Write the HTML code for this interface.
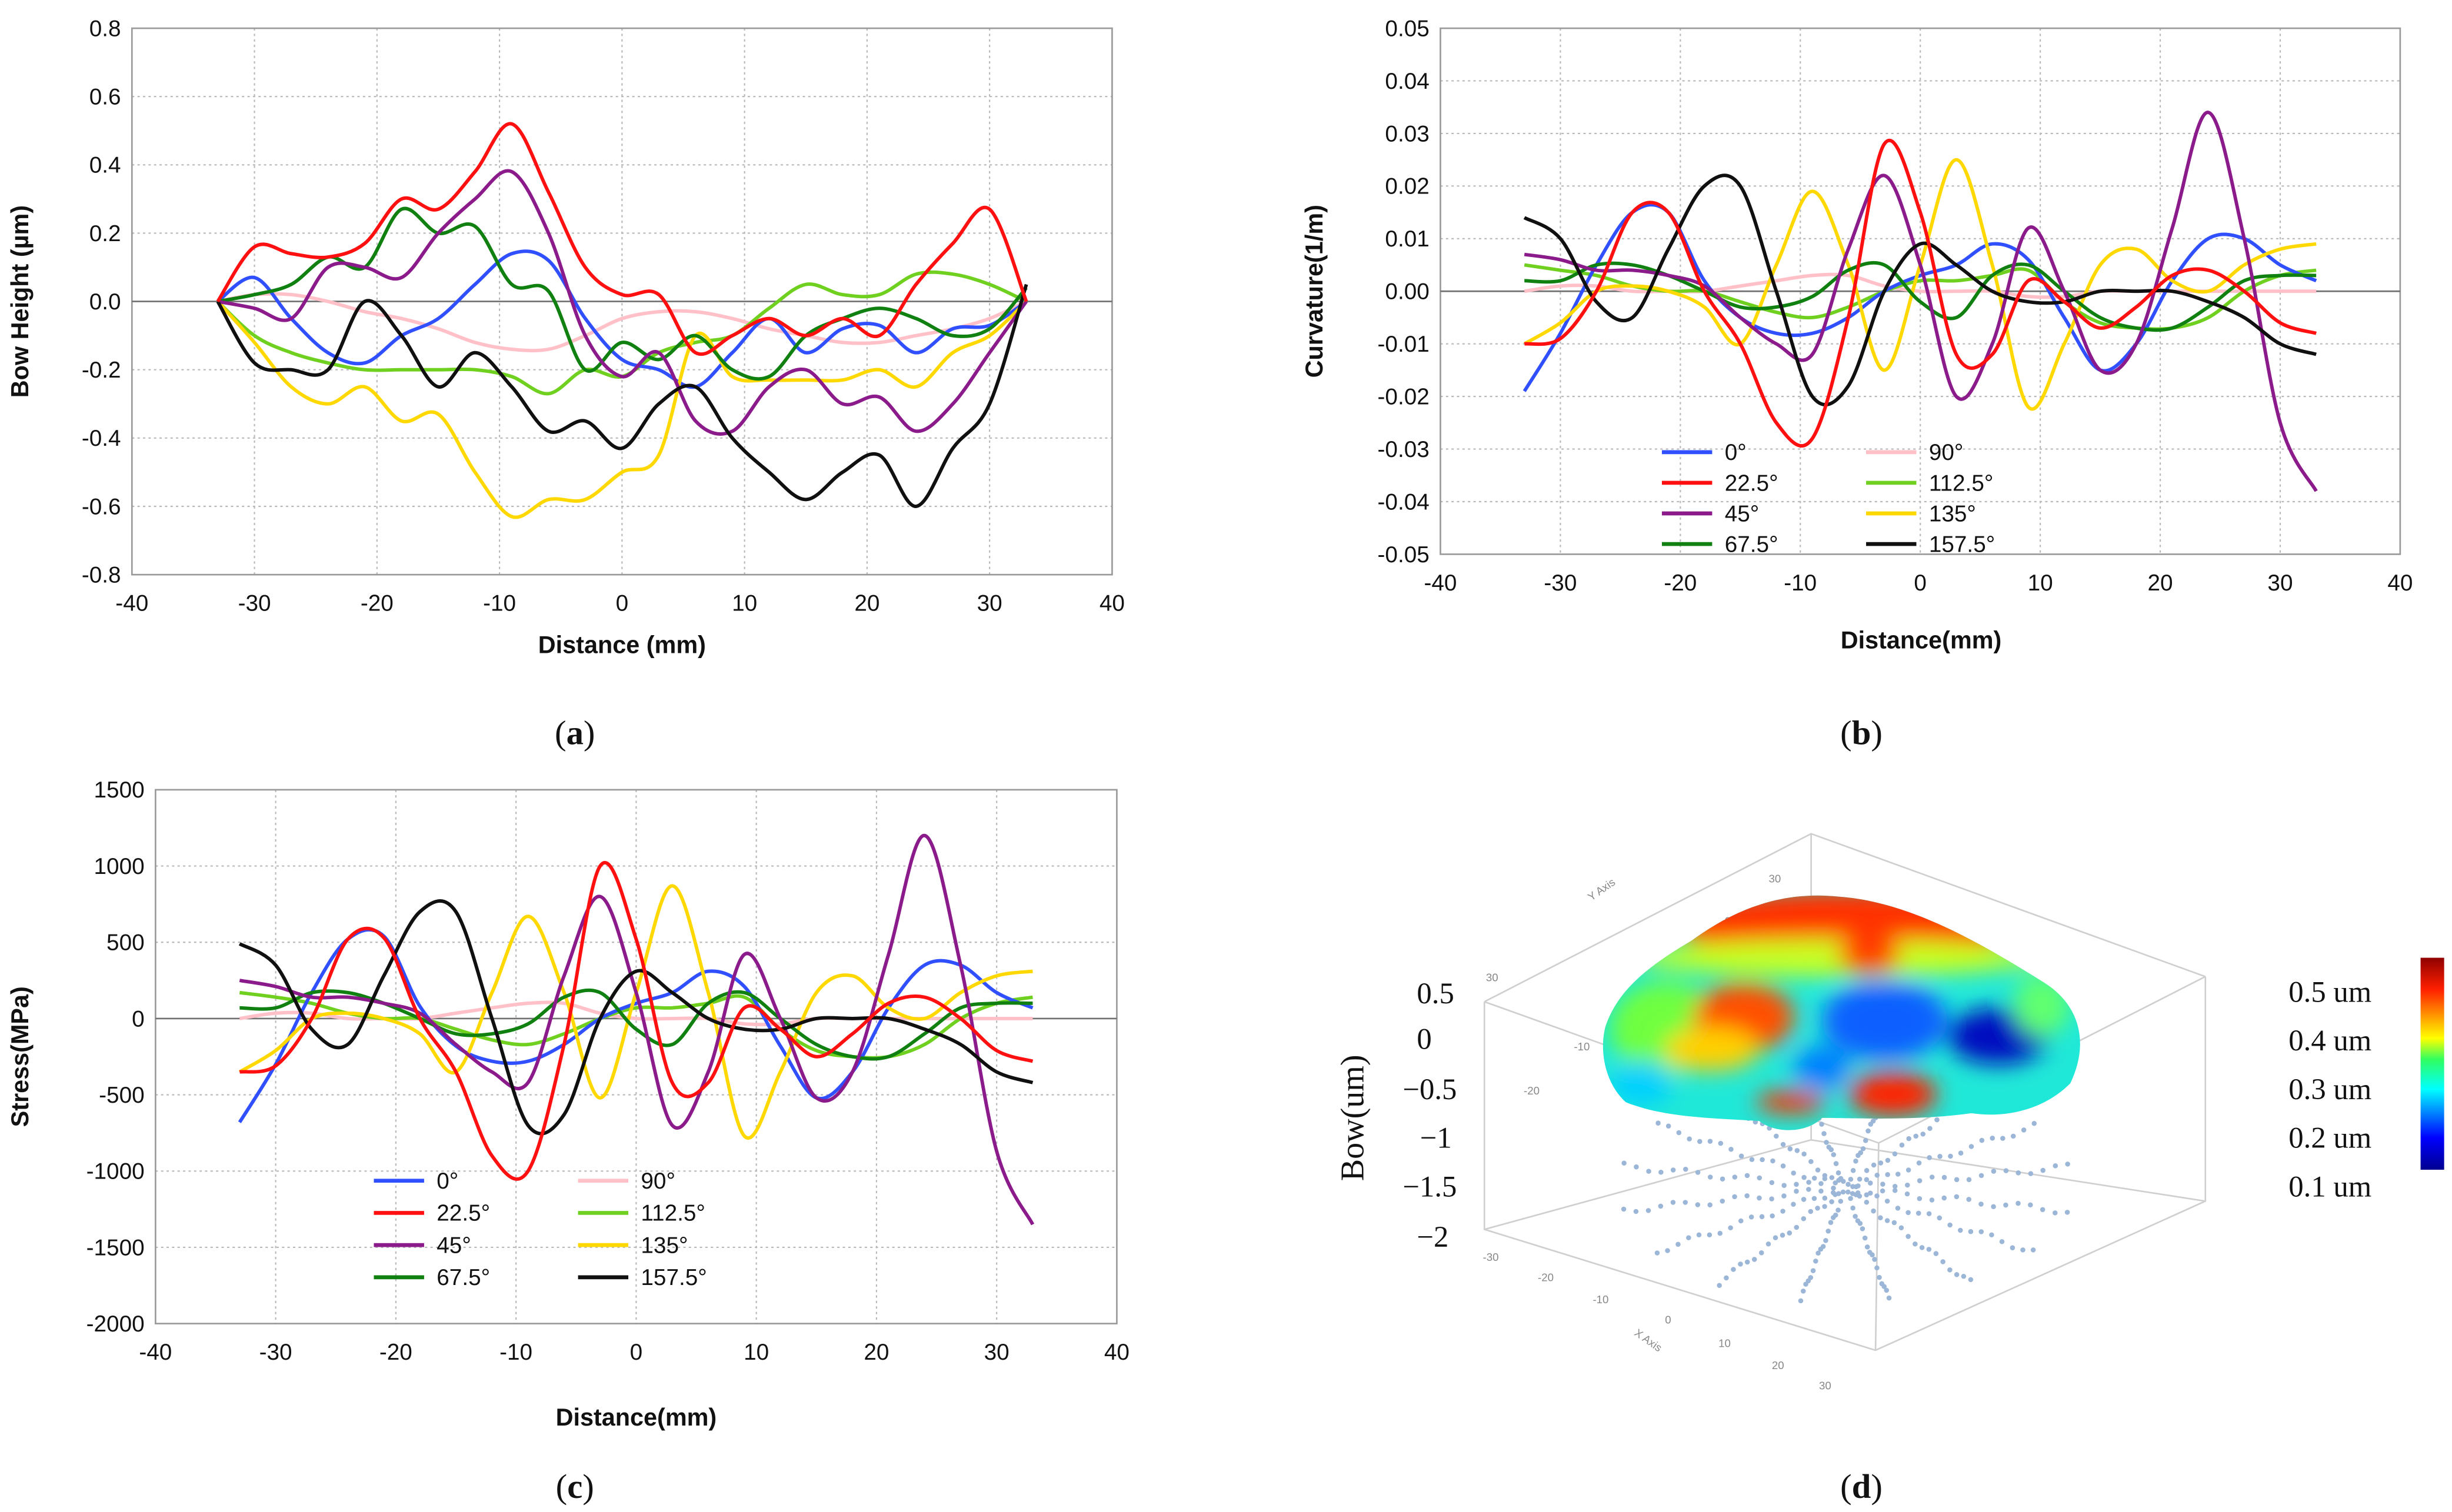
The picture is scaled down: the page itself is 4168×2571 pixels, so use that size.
<!DOCTYPE html>
<html><head><meta charset="utf-8"><style>
html,body{margin:0;padding:0;background:#fff;}
svg{display:block;}
text{font-family:"Liberation Sans",sans-serif;}
.serif text, text.serif{font-family:"Liberation Serif",serif;}
</style></head><body>
<svg id="root" xmlns="http://www.w3.org/2000/svg" width="4168" height="2571" viewBox="0 0 1561 963" preserveAspectRatio="none">
<defs>
<linearGradient id="cbar" x1="0" y1="1" x2="0" y2="0">
<stop offset="0" stop-color="#00008f"/><stop offset="0.15" stop-color="#0000ff"/><stop offset="0.38" stop-color="#00ffff"/><stop offset="0.52" stop-color="#30ff60"/><stop offset="0.62" stop-color="#ffff00"/><stop offset="0.85" stop-color="#ff2000"/><stop offset="1" stop-color="#8f0000"/>
</linearGradient>
<filter id="blur" x="-50%" y="-50%" width="200%" height="200%"><feGaussianBlur stdDeviation="7"/></filter>
<clipPath id="blobclip"><path d="M1077,599 C1110,575 1140,568 1170,571 C1215,574 1260,600 1300,625 C1325,640 1330,665 1318,690 C1300,708 1275,712 1255,709 C1220,714 1180,712 1160,712 C1150,722 1130,722 1120,714 C1090,712 1060,712 1035,702 C1022,690 1018,670 1022,654 C1030,630 1050,615 1077,599 Z"/></clipPath>
</defs>
<g id="panels"></g>
<g id="p3d">
 <g stroke="#cfcfcf" stroke-width="1" fill="none">
  <path d="M945,638 L1153,531 L1404,622 M945,638 L945,783 L1194,860 L1404,765 L1404,622 M1153,531 L1153,726 L945,783 M1153,726 L1404,765 M945,638 L1196,728 L1404,622 M1196,728 L1194,860"/>
 </g>
 <g fill="#888" font-size="7">
  <text x="1126" y="562">30</text><text x="1098" y="589">20</text><text x="1066" y="617">10</text><text x="1040" y="642">0</text><text x="1002" y="669">-10</text><text x="970" y="697">-20</text><text x="946" y="625">30</text>
  <text x="1013" y="574" transform="rotate(-35 1013 574)">Y Axis</text>
  <text x="944" y="803">-30</text><text x="979" y="816">-20</text><text x="1014" y="830">-10</text><text x="1060" y="843">0</text><text x="1094" y="858">10</text><text x="1128" y="872">20</text><text x="1158" y="885">30</text>
  <text x="1040" y="850" transform="rotate(35 1040 850)">X Axis</text>
 </g>
 <g id="dots" fill="#9bb6d6"></g>
 <g clip-path="url(#blobclip)">
  <rect x="1010" y="560" width="330" height="170" fill="#20e8d8"/>
  <g filter="url(#blur)">
   <ellipse cx="1175" cy="588" rx="110" ry="22" fill="#ff3000"/>
   <ellipse cx="1170" cy="610" rx="130" ry="12" fill="#c8ff20"/>
   <ellipse cx="1060" cy="655" rx="35" ry="30" fill="#70ff40"/>
   <ellipse cx="1110" cy="648" rx="32" ry="22" fill="#ff5000"/>
   <ellipse cx="1090" cy="668" rx="30" ry="14" fill="#ffd000"/>
   <ellipse cx="1190" cy="608" rx="20" ry="12" fill="#ff4000"/>
   <ellipse cx="1200" cy="650" rx="40" ry="25" fill="#1060ff"/>
   <ellipse cx="1272" cy="660" rx="32" ry="18" fill="#0010c0"/>
   <ellipse cx="1300" cy="640" rx="18" ry="20" fill="#60ff70"/>
   <ellipse cx="1205" cy="697" rx="28" ry="14" fill="#ff2000"/>
   <ellipse cx="1140" cy="702" rx="22" ry="7" fill="#ff3000"/>
   <ellipse cx="1160" cy="680" rx="18" ry="14" fill="#0080ff"/>
   <ellipse cx="1045" cy="690" rx="20" ry="14" fill="#00d0ff"/>
  </g>
 </g>
 <g class="serif" font-size="19" fill="#111">
  <text x="902" y="639">0.5</text><text x="902" y="668">0</text><text x="893" y="700">−0.5</text><text x="904" y="731">−1</text><text x="893" y="762">−1.5</text><text x="902" y="794">−2</text>
 </g>
 <text class="serif" x="868" y="712" transform="rotate(-90 868 712)" text-anchor="middle" font-size="21" fill="#111">Bow(um)</text>
 <g class="serif" font-size="19" fill="#111">
  <text x="1457" y="638">0.5 um</text><text x="1457" y="669">0.4 um</text><text x="1457" y="700">0.3 um</text><text x="1457" y="731">0.2 um</text><text x="1457" y="762">0.1 um</text>
 </g>
 <rect x="1541" y="610" width="15" height="135" fill="url(#cbar)"/>
</g>
<g class="serif" font-size="22" fill="#111">
 <text x="366" y="474" text-anchor="middle">(<tspan font-weight="bold">a</tspan>)</text>
 <text x="1185" y="474" text-anchor="middle">(<tspan font-weight="bold">b</tspan>)</text>
 <text x="366" y="954" text-anchor="middle">(<tspan font-weight="bold">c</tspan>)</text>
 <text x="1185" y="954" text-anchor="middle">(<tspan font-weight="bold">d</tspan>)</text>
</g>
</svg>
<script>
const distances = [-33,-30,-27,-24,-21,-18,-15,-12,-9,-6,-3,0,3,6,9,12,15,18,21,24,27,30,33];
const seriesNames = ["0°","22.5°","45°","67.5°","90°","112.5°","135°","157.5°"];
const seriesKeys = ["deg0","deg22","deg45","deg67","deg90","deg112","deg135","deg157"];
const seriesColors = ["#3050ff","#ff1010","#8b1a8b","#108010","#ffc0c8","#70d020","#ffd800","#101010"];
// panel a : bow height (um)
const bow_deg0   = [0,0.07,-0.05,-0.15,-0.18,-0.1,-0.05,0.05,0.14,0.12,-0.05,-0.17,-0.2,-0.25,-0.15,-0.05,-0.15,-0.08,-0.07,-0.15,-0.08,-0.07,0];
const bow_deg22  = [0,0.16,0.14,0.13,0.17,0.3,0.27,0.38,0.52,0.32,0.1,0.02,0.02,-0.15,-0.1,-0.05,-0.1,-0.05,-0.1,0.05,0.17,0.27,0];
const bow_deg45  = [0,-0.02,-0.05,0.1,0.1,0.07,0.2,0.3,0.38,0.2,-0.1,-0.22,-0.15,-0.35,-0.38,-0.25,-0.2,-0.3,-0.28,-0.38,-0.3,-0.15,0];
const bow_deg67  = [0,0.02,0.05,0.13,0.1,0.27,0.2,0.22,0.05,0.03,-0.2,-0.12,-0.17,-0.1,-0.2,-0.22,-0.1,-0.05,-0.02,-0.05,-0.1,-0.08,0.04];
const bow_deg90  = [0,0.02,0.02,0,-0.03,-0.05,-0.08,-0.12,-0.14,-0.14,-0.1,-0.05,-0.03,-0.03,-0.05,-0.08,-0.1,-0.12,-0.12,-0.1,-0.08,-0.05,0];
const bow_deg112 = [0,-0.1,-0.15,-0.18,-0.2,-0.2,-0.2,-0.2,-0.22,-0.27,-0.2,-0.22,-0.15,-0.12,-0.1,-0.02,0.05,0.02,0.02,0.08,0.08,0.05,0];
const bow_deg135 = [0,-0.12,-0.25,-0.3,-0.25,-0.35,-0.33,-0.5,-0.63,-0.58,-0.58,-0.5,-0.45,-0.1,-0.22,-0.23,-0.23,-0.23,-0.2,-0.25,-0.15,-0.1,0];
const bow_deg157 = [0,-0.18,-0.2,-0.2,0,-0.1,-0.25,-0.15,-0.25,-0.38,-0.35,-0.43,-0.3,-0.25,-0.4,-0.5,-0.58,-0.5,-0.45,-0.6,-0.43,-0.3,0.05];
// panel b : curvature (1/m)
const curv_deg0   = [-0.019,-0.008,0.005,0.015,0.015,0.002,-0.005,-0.008,-0.008,-0.005,0,0.003,0.005,0.009,0.006,-0.005,-0.015,-0.01,0.002,0.01,0.01,0.005,0.002];
const curv_deg22  = [-0.01,-0.009,0,0.015,0.015,0,-0.01,-0.025,-0.028,-0.005,0.028,0.015,-0.012,-0.012,0.002,-0.002,-0.007,-0.003,0.003,0.004,0,-0.006,-0.008];
const curv_deg45  = [0.007,0.006,0.004,0.004,0.003,0.001,-0.005,-0.01,-0.012,0.008,0.022,0.005,-0.02,-0.01,0.012,0,-0.015,-0.01,0.012,0.034,0.01,-0.025,-0.038];
const curv_deg67  = [0.002,0.002,0.005,0.005,0.003,0,-0.003,-0.003,-0.001,0.004,0.005,-0.002,-0.005,0.003,0.005,0,-0.005,-0.007,-0.007,-0.003,0.002,0.003,0.003];
const curv_deg90  = [0,0.001,0.001,0,0,0,0.001,0.002,0.003,0.003,0.001,0,0,0,-0.001,-0.001,0,0,0,0,0,0,0];
const curv_deg112 = [0.005,0.004,0.003,0.001,0,0,-0.002,-0.004,-0.005,-0.003,0,0.002,0.002,0.003,0.004,-0.002,-0.006,-0.007,-0.007,-0.005,0,0.003,0.004];
const curv_deg135 = [-0.01,-0.006,0,0.001,0,-0.003,-0.01,0.005,0.019,0.005,-0.015,0.005,0.025,0.005,-0.022,-0.01,0.005,0.008,0.002,0,0.005,0.008,0.009];
const curv_deg157 = [0.014,0.01,-0.002,-0.005,0.008,0.02,0.02,0,-0.02,-0.018,0,0.009,0.005,0,-0.002,-0.002,0,0,0,-0.002,-0.005,-0.01,-0.012];
// panel c : stress (MPa)
const str_deg0   = [-680,-300,170,520,540,80,-180,-280,-280,-170,0,100,170,310,210,-180,-520,-350,70,350,350,170,70];
const str_deg22  = [-350,-310,0,520,530,0,-350,-900,-1000,-170,1000,520,-420,-420,70,-70,-250,-100,100,140,0,-210,-280];
const str_deg45  = [250,210,140,140,100,35,-170,-350,-420,280,800,170,-700,-350,420,0,-520,-350,420,1200,350,-870,-1350];
const str_deg67  = [70,70,170,170,100,0,-100,-100,-35,140,170,-70,-170,100,170,0,-170,-250,-250,-100,70,100,100];
const str_deg90  = [0,35,35,0,0,0,35,70,100,100,35,0,0,0,-35,-35,0,0,0,0,0,0,0];
const str_deg112 = [170,140,100,35,0,0,-70,-140,-170,-100,0,70,70,100,140,-70,-210,-250,-250,-170,0,100,140];
const str_deg135 = [-350,-210,0,35,0,-100,-350,170,670,170,-520,170,870,170,-770,-350,170,280,70,0,170,280,310];
const str_deg157 = [490,350,-70,-170,280,700,700,0,-700,-630,0,310,170,0,-70,-70,0,0,0,-70,-170,-350,-420];
const xTicks = [-40,-30,-20,-10,0,10,20,30,40];
const yTicksA = [0.8,0.6,0.4,0.2,0,-0.2,-0.4,-0.6,-0.8];
const yLabelsA = ["0.8","0.6","0.4","0.2","0.0","-0.2","-0.4","-0.6","-0.8"];
const yTicksB = [0.05,0.04,0.03,0.02,0.01,0,-0.01,-0.02,-0.03,-0.04,-0.05];
const yLabelsB = ["0.05","0.04","0.03","0.02","0.01","0.00","-0.01","-0.02","-0.03","-0.04","-0.05"];
const yTicksC = [1500,1000,500,0,-500,-1000,-1500,-2000];
const yLabelsC = ["1500","1000","500","0","-500","-1000","-1500","-2000"];

const NS = "http://www.w3.org/2000/svg";
function mk(tag, attrs, parent){const e=document.createElementNS(NS,tag);for(const k in attrs)e.setAttribute(k,attrs[k]);parent.appendChild(e);return e;}
function smooth(pts){
  let d="M"+pts[0][0].toFixed(2)+","+pts[0][1].toFixed(2);
  for(let i=0;i<pts.length-1;i++){
    const p0=pts[Math.max(0,i-1)],p1=pts[i],p2=pts[i+1],p3=pts[Math.min(pts.length-1,i+2)];
    const c1=[p1[0]+(p2[0]-p0[0])/6,p1[1]+(p2[1]-p0[1])/6];
    const c2=[p2[0]-(p3[0]-p1[0])/6,p2[1]-(p3[1]-p1[1])/6];
    d+=" C"+c1[0].toFixed(2)+","+c1[1].toFixed(2)+" "+c2[0].toFixed(2)+","+c2[1].toFixed(2)+" "+p2[0].toFixed(2)+","+p2[1].toFixed(2);
  }
  return d;
}
const panels=document.getElementById("panels");
function chart(cfg){
  const g=mk("g",{},panels);
  
  
  const xs=v=>cfg.x0+(v-(-40))/80*(cfg.x1-cfg.x0);
  const ys=v=>cfg.y0+(cfg.yMax-v)/(cfg.yMax-cfg.yMin)*(cfg.y1-cfg.y0);
  const grid=mk("g",{stroke:"#b8b8b8","stroke-width":"0.8","stroke-dasharray":"1.5,2"},g);
  
  
  xTicks.forEach(t=>{mk("line",{x1:xs(t),x2:xs(t),y1:cfg.y0,y2:cfg.y1},grid);});
  cfg.yT.forEach(t=>{mk("line",{x1:cfg.x0,x2:cfg.x1,y1:ys(t),y2:ys(t)},grid);});
  const frame=mk("rect",{x:cfg.x0,y:cfg.y0,width:cfg.x1-cfg.x0,height:cfg.y1-cfg.y0,fill:"none",stroke:"#9a9a9a","stroke-width":"1"},g);
  
  
  const zl=mk("line",{x1:cfg.x0,x2:cfg.x1,y1:ys(0),y2:ys(0),stroke:"#707070","stroke-width":"1"},g);
  
  
  xTicks.forEach(t=>{const e=mk("text",{x:xs(t),y:cfg.y1+23,"text-anchor":"middle","font-size":"14.5",fill:"#111"},g);e.textContent=t;
    
    });
  cfg.yT.forEach((t,i)=>{const e=mk("text",{x:cfg.x0-7,y:ys(t)+5,"text-anchor":"end","font-size":"14.5",fill:"#111"},g);e.textContent=cfg.yL[i];
    
    });
  const xt=mk("text",{x:cfg.xtX,y:cfg.xtY,"text-anchor":"middle","font-size":"15.5","font-weight":"bold",fill:"#111"},g);xt.textContent=cfg.xTitle;
  
  
  const cy=(cfg.y0+cfg.y1)/2;
  const yt=mk("text",{x:cfg.ytX,y:cy,"text-anchor":"middle","font-size":"15.5","font-weight":"bold",fill:"#111",transform:"rotate(-90 "+cfg.ytX+" "+cy+")"},g);yt.textContent=cfg.yTitle;
  
  
  const order=[4,5,0,6,3,2,7,1];
  order.forEach(i=>{
    const vals=cfg.data[i];
    const pts=distances.map((d,j)=>[xs(d),ys(vals[j])]);
    const p=mk("path",{d:smooth(pts),fill:"none",stroke:seriesColors[i],"stroke-width":"2.2","stroke-linejoin":"round"},g);
    
    
  });
  if(cfg.leg){
    const lg=mk("g",{},g);
    
    
    seriesNames.forEach((n,i)=>{
      const col=Math.floor(i/4),row=i%4;
      const lx=cfg.leg.x+col*cfg.leg.dx, ly=cfg.leg.y+row*cfg.leg.dy;
      const ent=mk("g",{},lg);
      
      
      mk("line",{x1:lx,x2:lx+32,y1:ly,y2:ly,stroke:seriesColors[i],"stroke-width":"2.5"},ent);
      const t=mk("text",{x:lx+40,y:ly+5,"font-size":"14.5",fill:"#111"},ent);t.textContent=n;
    });
  }
}
chart({name:"bow-height-chart",x0:84,x1:708,y0:18,y1:366,yMax:0.8,yMin:-0.8,yT:yTicksA,yL:yLabelsA,
  data:[bow_deg0,bow_deg22,bow_deg45,bow_deg67,bow_deg90,bow_deg112,bow_deg135,bow_deg157],
  xTitle:"Distance (mm)",xtX:396,xtY:416,yTitle:"Bow Height (µm)",ytX:18});
chart({name:"curvature-chart",x0:917,x1:1528,y0:18,y1:353,yMax:0.05,yMin:-0.05,yT:yTicksB,yL:yLabelsB,
  data:[curv_deg0,curv_deg22,curv_deg45,curv_deg67,curv_deg90,curv_deg112,curv_deg135,curv_deg157],
  xTitle:"Distance(mm)",xtX:1223,xtY:413,yTitle:"Curvature(1/m)",ytX:842,leg:{x:1058,y:288,dx:130,dy:19.5}});
chart({name:"stress-chart",x0:99,x1:711,y0:503,y1:843,yMax:1500,yMin:-2000,yT:yTicksC,yL:yLabelsC,
  data:[str_deg0,str_deg22,str_deg45,str_deg67,str_deg90,str_deg112,str_deg135,str_deg157],
  xTitle:"Distance(mm)",xtX:405,xtY:908,yTitle:"Stress(MPa)",ytX:18,leg:{x:238,y:752,dx:130,dy:20.5}});
// decorative sample-point rays in 3D panel
const dots=document.getElementById("dots");


for(let a=0;a<16;a++){
  const ang=a*Math.PI/8+0.2;
  for(let r=8;r<=150;r+=8){
    const x=1175+Math.cos(ang)*r, y=757+Math.sin(ang)*r*0.5+Math.sin(r*0.15+a)*2;
    mk("circle",{cx:x.toFixed(1),cy:y.toFixed(1),r:"1.6"},dots);
  }
}
</script>
</body></html>
